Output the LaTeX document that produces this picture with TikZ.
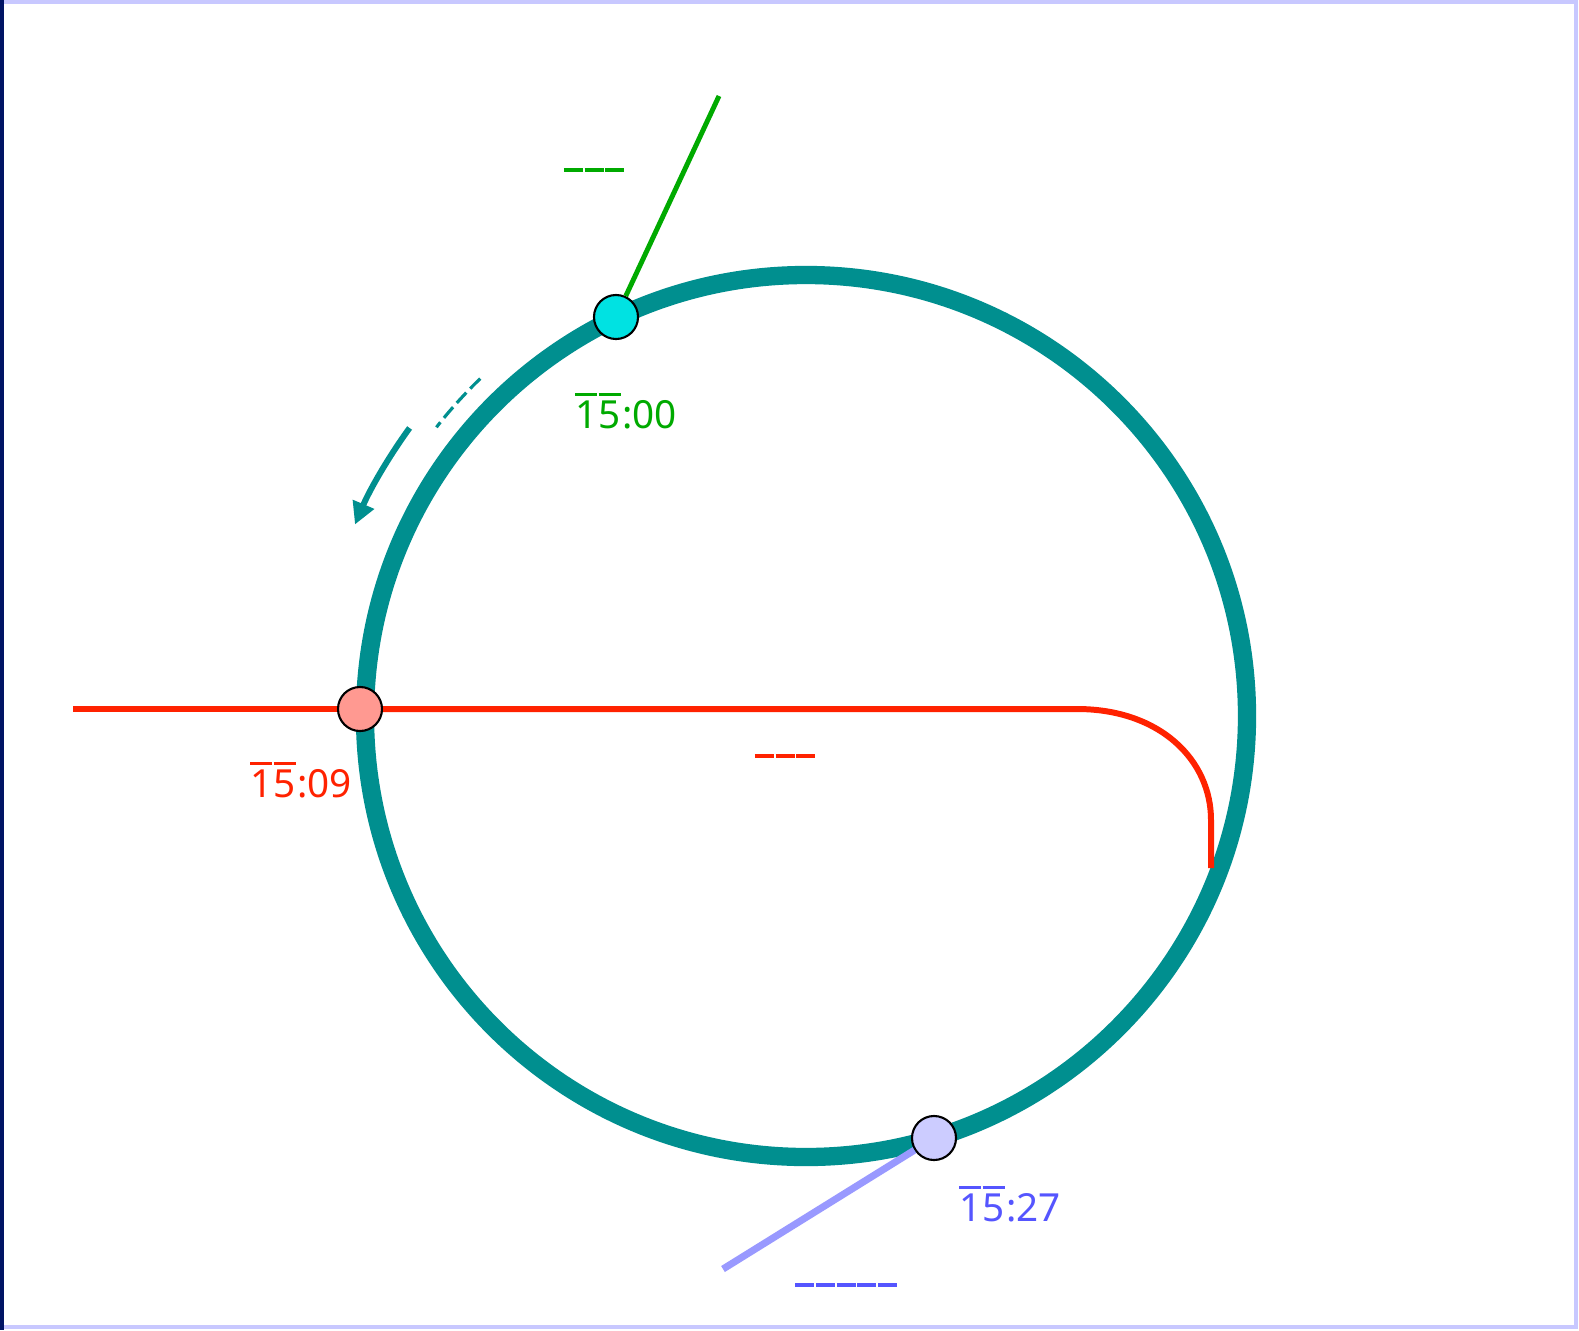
\documentclass[tikz,border=0pt]{standalone}
\usepackage{fontspec}
\setmainfont{Noto Sans}
\usepackage{tikz}
\usepackage{xcolor}
\usetikzlibrary{arrows.meta,calc}
\definecolor{track}{RGB}{0,143,143}
\definecolor{startcol}{RGB}{0,170,0}
\definecolor{crosscol}{RGB}{255,34,0}
\definecolor{finishcol}{RGB}{85,85,255}
\definecolor{finishline}{RGB}{153,153,255}
\definecolor{dotcyan}{RGB}{0,226,226}
\definecolor{dotpink}{RGB}{255,153,145}
\definecolor{dotlav}{RGB}{204,204,255}
\definecolor{framelav}{RGB}{200,200,255}
\definecolor{framenavy}{RGB}{0,20,100}
% overlined digit and blank glyph marks
\newcommand{\ovl}[1]{\vbox{\hrule height 0.7pt\kern 1.3pt\hbox{#1}}\kern0.4pt}
\newcommand{\tofu}[1]{\foreach \k in {1,...,#1}{\rule{5.4pt}{0.9pt}\hspace{0.5pt}}}

\begin{document}
\begin{tikzpicture}[x={(0.01cm,0cm)}, y={(0cm,-0.01cm)}, >=Stealth,
    dot/.style={circle, draw=black, line width=0.6pt, minimum size=0.44cm, inner sep=0pt},
    timelabel/.style={font=\fontsize{11}{13}\selectfont, inner sep=0pt},
    blank/.style={inner sep=0pt, font=\fontsize{10.5}{12}\selectfont}]
    % Frame
    \useasboundingbox (0,0) rectangle (1579,1330);
    \fill[white] (0,0) rectangle (1579,1330);
    \draw[framelav, line width=1pt] (2,2) rectangle (1576,1327);
    \fill[framenavy] (0,0) rectangle (4,1330);

    % Track
    \coordinate (centre) at (806,716);
    \draw[track, line width=5.2pt] (centre) circle[radius=441];

    % Direction of travel
    \draw[track, line width=0.9pt, dash pattern=on 4pt off 1.6pt]
        ($(centre)+(-134:469)$) arc[start angle=-134, end angle=-142, radius=469];
    \draw[track, line width=1.7pt, -{Triangle[length=2.2mm,width=2.2mm]}]
        ($(centre)+(-144:490)$) arc[start angle=-144, end angle=-157, radius=490];

    % Marked points
    \node[dot, fill=dotcyan] (start) at (616,317) {};
    \node[dot, fill=dotpink] (cross) at (360,709) {};
    \node[dot, fill=dotlav] (finish) at (934,1138) {};

    % Start line
    \coordinate (startend) at (719,96);
    \draw[startcol, line width=1.4pt] (start) -- (startend);
    \node[blank, text=startcol] (startnote) at (594,170) {\tofu{3}};
    \node[timelabel, text=startcol] (starttime) at (626,411) {\ovl{1}\ovl{5}:00};

    % Crossing line
    \coordinate (crossleft) at (73,709);
    \coordinate (crossbend) at (1077,709);
    \coordinate (crossend) at (1211,868);
    \draw[crosscol, line width=1.7pt] (crossleft) -- (cross.west);
    \draw[crosscol, line width=1.7pt] (cross.east) -- (crossbend)
        .. controls (1160,709) and (1211,760) .. (1211,820) -- (crossend);
    \node[blank, text=crosscol] (crossnote) at (785,756) {\tofu{3}};
    \node[timelabel, text=crosscol] (crosstime) at (301,780) {\ovl{1}\ovl{5}:09};

    % Finish line
    \coordinate (finishend) at (723,1269);
    \draw[finishline, line width=2pt] (finish) -- (finishend);
    \node[blank, text=finishcol] (finishnote) at (846,1285) {\tofu{5}};
    \node[timelabel, text=finishcol] (finishtime) at (1010,1204) {\ovl{1}\ovl{5}:27};
\end{tikzpicture}
\end{document}
